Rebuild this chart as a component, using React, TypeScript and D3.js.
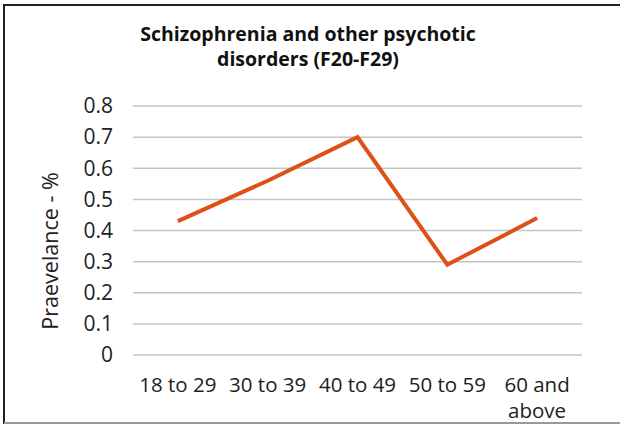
import React from "react";
import * as d3 from "d3";

// Age groups and prevalence values
const categories = ["18 to 29", "30 to 39", "40 to 49", "50 to 59", "60 and above"];
const categoryLines = [["18 to 29"], ["30 to 39"], ["40 to 49"], ["50 to 59"], ["60 and", "above"]];
const prevalence = [0.43, 0.56, 0.7, 0.29, 0.44];
const yTicks = [0, 0.1, 0.2, 0.3, 0.4, 0.5, 0.6, 0.7, 0.8];

const width = 620;
const height = 426;
const margin = { left: 133, right: 38, top: 106, bottom: 71 };
const font = "'Open Sans', 'Noto Sans', sans-serif";

const App: React.FC = () => {
  const x = d3
    .scaleBand<string>()
    .domain(categories)
    .range([margin.left, width - margin.right]);

  const y = d3
    .scaleLinear()
    .domain([0, 0.8])
    .range([height - margin.bottom, margin.top]);

  const line = d3
    .line<number>()
    .x((_, i) => x(categories[i])! + x.bandwidth() / 2)
    .y(d => y(d));

  return (
    <svg
      width={width}
      height={height}
      style={{ position: "absolute", left: 0, top: 0, background: "#fff" }}
      fontFamily={font}
    >
      {/* outer frame */}
      <rect x={4} y={5} width={width} height={418} fill="#fff" stroke="#222" strokeWidth={2} />
      <line x1={4} x2={width} y1={423} y2={423} stroke="#999" strokeWidth={2} />

      {/* title */}
      <text textAnchor="middle" fontWeight="bold" fontSize={19.5} fill="#111">
        <tspan x={308} y={41}>Schizophrenia and other psychotic</tspan>
        <tspan x={308} y={66}>disorders (F20-F29)</tspan>
      </text>

      {/* gridlines */}
      {yTicks.map(t => (
        <line
          key={t}
          x1={margin.left}
          x2={width - margin.right}
          y1={y(t)}
          y2={y(t)}
          stroke="#c4c4c4"
          strokeWidth={1.5}
        />
      ))}

      {/* y tick labels */}
      {yTicks.map(t => (
        <text
          key={"l" + t}
          x={113}
          y={y(t)}
          dy="0.35em"
          textAnchor="end"
          fontSize={21}
          fill="#222"
        >
          {d3.format("")(t)}
        </text>
      ))}

      {/* y axis title */}
      <text
        transform={`translate(58, 251) rotate(-90)`}
        textAnchor="middle"
        fontSize={21.5}
        fill="#222"
      >
        Praevelance - %
      </text>

      {/* x labels */}
      {categories.map((c, i) => (
        <text key={c} textAnchor="middle" fontSize={20.5} fill="#222">
          {categoryLines[i].map((ln, j) => (
            <tspan key={j} x={x(c)! + x.bandwidth() / 2} y={392 + j * 26}>
              {ln}
            </tspan>
          ))}
        </text>
      ))}

      {/* series */}
      <path d={line(prevalence)!} fill="none" stroke="#de5018" strokeWidth={4} strokeLinejoin="miter" />
    </svg>
  );
};

export default App;
